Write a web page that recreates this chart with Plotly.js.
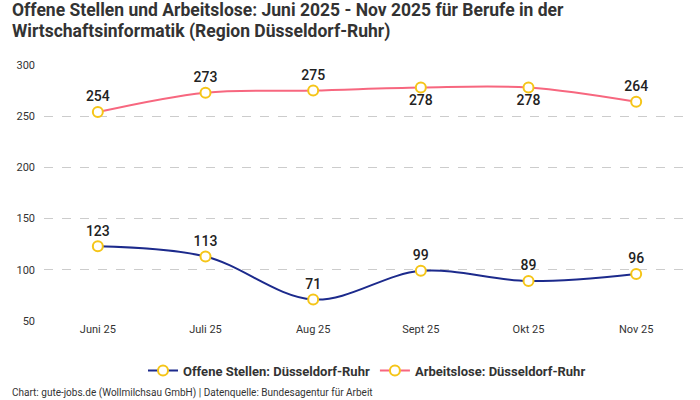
<!DOCTYPE html>
<html><head><meta charset="utf-8">
<script src="https://cdn.plot.ly/plotly-3.0.1.min.js"></script>
<style>body{margin:0}#c{width:700px;height:400px}</style>
</head><body><div id="c"></div>
<script>
const months = ["Juni 25","Juli 25","Aug 25","Sept 25","Okt 25","Nov 25"];
const offeneStellen = [123,113,71,99,89,96];
const arbeitslose = [254,273,275,278,278,264];
const arbeitsloseLabelPos = ["top center","top center","top center","bottom center","bottom center","top center"];
const yTicks = [50,100,150,200,250,300];
const titleLines = ["Offene Stellen und Arbeitslose: Juni 2025 - Nov 2025 für Berufe in der","Wirtschaftsinformatik (Region Düsseldorf-Ruhr)"];

const F = "Roboto, 'Noto Sans', sans-serif";
const marker = {size:10, color:"#ffffff", line:{color:"#f5c518", width:2}};
const traces = [
 {x:months, y:offeneStellen, name:"Offene Stellen: Düsseldorf-Ruhr", type:"scatter", mode:"lines+markers+text",
  line:{color:"#1c2a8c", width:2, shape:"spline", smoothing:1}, marker:marker,
  text:offeneStellen.map(String), textposition:"top center", cliponaxis:false,
  textfont:{family:F, size:14, color:"#222", weight:500}},
 {x:months, y:arbeitslose, name:"Arbeitslose: Düsseldorf-Ruhr", type:"scatter", mode:"lines+markers+text",
  line:{color:"#f7677f", width:2, shape:"spline", smoothing:1}, marker:marker,
  text:arbeitslose.map(String), textposition:arbeitsloseLabelPos, cliponaxis:false,
  textfont:{family:F, size:14, color:"#222", weight:500}}
];
const annotations = titleLines.map((t,i)=>({text:"<b>"+t+"</b>",
   xref:"paper", yref:"paper", x:-0.053, xanchor:"left", y:1.213-0.083*i, yanchor:"middle", align:"left", showarrow:false,
   font:{family:F, size:17.5, color:"#333"}}));
annotations.push({text:"Chart: gute-jobs.de (Wollmilchsau GmbH) | Datenquelle: Bundesagentur für Arbeit",
   xref:"paper", yref:"paper", x:-0.053, xanchor:"left", y:-0.281, yanchor:"middle", showarrow:false,
   font:{family:F, size:10, color:"#333"}});
const layout = {
 width:700, height:400, margin:{l:44, r:10, t:65, b:79},
 paper_bgcolor:"#fff", plot_bgcolor:"#fff",
 font:{family:F, color:"#333", size:11},
 xaxis:{type:"category", range:[-0.5,5.5], showgrid:false, zeroline:false, showline:false,
  tickfont:{family:F, size:11, color:"#333"}, ticks:""},
 yaxis:{range:[50,300], tickvals:yTicks, showgrid:true, gridcolor:"#cccccc", griddash:"dash", gridwidth:1,
  zeroline:false, showline:false, tickfont:{family:F, size:11, color:"#333"}, ticks:"", ticklabelstandoff:8},
 showlegend:true,
 legend:{orientation:"h", x:0.5, xanchor:"center", y:-0.135, yanchor:"top",
  font:{family:F, size:13, color:"#333", weight:"bold"}},
 annotations:annotations
};
Plotly.newPlot("c", traces, layout, {displayModeBar:false});
</script></body></html>
